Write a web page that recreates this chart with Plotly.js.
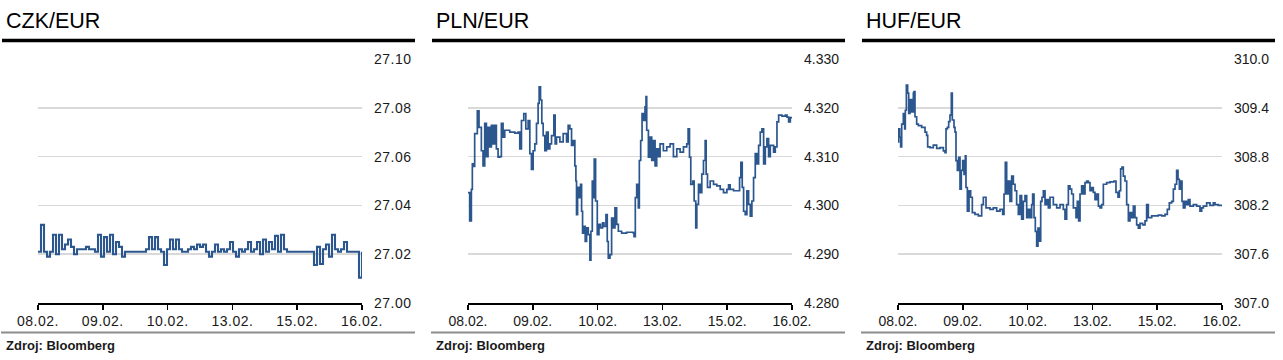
<!DOCTYPE html>
<html>
<head>
<meta charset="utf-8">
<script src="https://cdn.plot.ly/plotly-3.0.1.min.js"></script>
<style>
html,body{margin:0;padding:0;background:#fff;}
#chart{width:1283px;height:360px;}
.xtick text, .ytick text {letter-spacing:0.5px;}
</style>
</head>
<body>
<div id="chart"></div>
<script>
// ---------- data ----------
var panelTitles = ["CZK/EUR", "PLN/EUR", "HUF/EUR"];
var sourceText = "Zdroj: Bloomberg";
var dateLabels = ["08.02.", "09.02.", "10.02.", "13.02.", "15.02.", "16.02."];
var datePos = [0, 1, 2, 3, 4, 5];

var czkTicks = [27.00, 27.02, 27.04, 27.06, 27.08, 27.10];
var czkTickText = ["27.00", "27.02", "27.04", "27.06", "27.08", "27.10"];
var plnTicks = [4.280, 4.290, 4.300, 4.310, 4.320, 4.330];
var plnTickText = ["4.280", "4.290", "4.300", "4.310", "4.320", "4.330"];
var hufTicks = [307.0, 307.6, 308.2, 308.8, 309.4, 310.0];
var hufTickText = ["307.0", "307.6", "308.2", "308.8", "309.4", "310.0"];

// CZK/EUR, evenly spaced observations over the period
var czkValues = [
27.021,27.032,27.021,27.019,27.021,27.028,27.020,27.028,27.022,27.024,
27.026,27.023,27.020,27.022,27.022,27.022,27.023,27.022,27.022,27.021,
27.028,27.019,27.027,27.021,27.028,27.020,27.025,27.023,27.019,27.021,
27.021,27.021,27.021,27.021,27.021,27.021,27.022,27.027,27.022,27.027,
27.022,27.021,27.0156,27.022,27.026,27.022,27.026,27.022,27.021,27.021,
27.022,27.023,27.022,27.024,27.023,27.024,27.021,27.019,27.021,27.024,
27.021,27.022,27.021,27.022,27.025,27.021,27.019,27.022,27.021,27.022,
27.025,27.021,27.022,27.025,27.020,27.026,27.021,27.025,27.022,27.0275,
27.021,27.028,27.022,27.021,27.021,27.021,27.021,27.021,27.021,27.021,
27.021,27.021,27.0156,27.023,27.016,27.022,27.024,27.019,27.028,27.022,
27.021,27.022,27.025,27.021,27.021,27.021,27.021,27.0104,27.021
];

// PLN/EUR: time (in label-interval units) and rate
var plnTime = [
0,0.026,0.052,0.067,0.088,0.103,0.144,0.170,0.206,0.232,
0.258,0.284,0.309,0.335,0.361,0.387,0.412,0.438,0.464,0.490,
0.515,0.541,0.567,0.644,0.722,0.773,0.799,0.825,0.861,0.892,
0.928,0.954,0.979,1.005,1.031,1.057,1.082,1.098,1.119,1.139,
1.160,1.186,1.211,1.237,1.263,1.289,1.325,1.345,1.366,1.418,
1.469,1.521,1.546,1.572,1.598,1.624,1.649,1.665,1.675,1.691,
1.711,1.737,1.753,1.768,1.789,1.809,1.830,1.856,1.881,1.897,
1.918,1.933,1.948,1.969,1.995,2.021,2.046,2.077,2.098,2.129,
2.149,2.165,2.191,2.216,2.242,2.268,2.294,2.320,2.371,2.448,
2.552,2.562,2.582,2.603,2.629,2.644,2.665,2.686,2.706,2.732,
2.747,2.758,2.784,2.809,2.835,2.861,2.887,2.912,2.938,2.964,
3.015,3.067,3.119,3.170,3.222,3.273,3.325,3.376,3.397,3.418,
3.438,3.469,3.490,3.515,3.531,3.557,3.582,3.608,3.634,3.660,
3.675,3.696,3.737,3.789,3.840,3.892,3.943,3.995,4.021,4.046,
4.098,4.149,4.191,4.211,4.232,4.253,4.278,4.304,4.330,4.356,
4.381,4.407,4.433,4.459,4.485,4.510,4.536,4.562,4.588,4.613,
4.639,4.665,4.716,4.742,4.768,4.794,4.845,4.897,4.923,4.948,
4.974,5.000
];
var plnValues = [
4.3026,4.2968,4.3033,4.3085,4.3080,4.3147,4.3194,4.3160,4.3112,4.3081,
4.3168,4.3100,4.3160,4.3120,4.3164,4.3126,4.3164,4.3116,4.3099,4.3100,
4.3168,4.3140,4.3154,4.3150,4.3148,4.3150,4.3116,4.3174,4.3188,4.3157,
4.3174,4.3106,4.3074,4.3112,4.3126,4.3168,4.3209,4.3243,4.3216,4.3168,
4.3143,4.3112,4.3150,4.3116,4.3126,4.3143,4.3185,4.3126,4.3140,4.3130,
4.3147,4.3130,4.3164,4.3157,4.3123,4.3133,4.3081,4.3050,4.2981,4.3037,
4.3016,4.3043,4.2988,4.2943,4.2957,4.2926,4.2954,4.2940,4.2888,4.2947,
4.3050,4.3016,4.3095,4.3009,4.2940,4.2961,4.2954,4.2964,4.2957,4.2981,
4.2926,4.2892,4.2899,4.2974,4.2954,4.2995,4.2961,4.2947,4.2943,4.2945,
4.2943,4.2936,4.3016,4.3043,4.2995,4.3092,4.3133,4.3188,4.3174,4.3202,
4.3223,4.3154,4.3099,4.3140,4.3092,4.3133,4.3081,4.3116,4.3100,4.3126,
4.3112,4.3120,4.3126,4.3100,4.3116,4.3109,4.3120,4.3126,4.3157,4.3099,
4.3043,4.3050,4.3009,4.2954,4.3002,4.3043,4.3026,4.3064,4.3092,4.3133,
4.3064,4.3037,4.3050,4.3043,4.3040,4.3033,4.3026,4.3033,4.3042,4.3033,
4.3030,4.3030,4.3057,4.3088,4.3037,4.2988,4.2981,4.3030,4.3002,4.2978,
4.3009,4.3057,4.3106,4.3085,4.3123,4.3150,4.3157,4.3085,4.3120,4.3137,
4.3100,4.3123,4.3109,4.3120,4.3171,4.3185,4.3183,4.3185,4.3181,4.3171,
4.3180,4.3180
];

// HUF/EUR: time (in label-interval units) and rate
var hufTime = [
0,0.010,0.026,0.041,0.057,0.082,0.103,0.113,0.129,0.149,
0.165,0.185,0.211,0.237,0.247,0.262,0.288,0.314,0.365,0.417,
0.442,0.458,0.494,0.545,0.597,0.648,0.700,0.725,0.741,0.761,
0.782,0.802,0.823,0.838,0.864,0.880,0.895,0.916,0.936,0.957,
0.977,0.998,1.019,1.039,1.049,1.070,1.096,1.121,1.147,1.188,
1.240,1.291,1.317,1.358,1.420,1.471,1.523,1.574,1.615,1.636,
1.656,1.677,1.703,1.728,1.754,1.780,1.806,1.831,1.857,1.883,
1.908,1.934,1.960,1.986,2.011,2.037,2.063,2.078,2.099,2.119,
2.140,2.160,2.181,2.202,2.222,2.243,2.269,2.294,2.320,2.346,
2.397,2.449,2.500,2.551,2.577,2.603,2.629,2.654,2.680,2.706,
2.747,2.767,2.788,2.809,2.834,2.860,2.886,2.912,2.937,2.963,
2.989,3.014,3.040,3.066,3.092,3.117,3.143,3.169,3.220,3.272,
3.333,3.364,3.395,3.416,3.436,3.457,3.477,3.503,3.529,3.555,
3.580,3.606,3.632,3.657,3.683,3.709,3.735,3.776,3.812,3.837,
3.863,3.915,3.966,4.017,4.069,4.120,4.156,4.187,4.223,4.249,
4.275,4.300,4.321,4.342,4.362,4.383,4.403,4.429,4.455,4.480,
4.506,4.558,4.609,4.660,4.686,4.712,4.763,4.815,4.866,4.892,
4.943,5.000
];
var hufValues = [
308.98,309.14,309.04,308.92,309.20,309.33,309.14,309.37,309.68,309.58,
309.33,309.50,309.35,309.58,309.60,309.29,309.20,309.18,309.16,309.10,
309.06,308.92,308.91,308.94,308.90,308.91,308.87,308.85,309.14,309.16,
309.23,309.31,309.58,309.25,309.16,309.10,308.75,308.63,308.79,308.40,
308.63,308.75,308.58,308.81,308.42,308.13,308.38,308.30,308.11,308.09,
308.07,308.21,308.30,308.17,308.15,308.17,308.13,308.15,308.09,308.34,
308.73,308.34,308.50,308.25,308.56,308.46,308.38,308.21,308.09,308.32,
308.03,308.25,308.32,308.05,308.15,308.05,308.21,308.34,308.05,307.88,
307.70,307.92,307.76,308.25,308.30,308.38,308.21,308.27,308.17,308.30,
308.21,308.17,308.21,308.15,308.03,308.21,308.44,308.40,308.34,308.17,
308.05,308.25,308.01,308.34,308.44,308.34,308.48,308.50,308.48,308.38,
308.42,308.36,308.27,308.34,308.19,308.17,308.21,308.46,308.48,308.49,
308.50,308.36,308.30,308.38,308.65,308.67,308.56,308.50,308.21,308.01,
308.11,308.05,308.19,308.05,307.96,307.92,307.98,307.96,308.01,308.21,
308.05,308.07,308.07,308.08,308.07,308.09,308.15,308.23,308.25,308.40,
308.46,308.63,308.52,308.40,308.50,308.25,308.17,308.25,308.21,308.27,
308.19,308.21,308.19,308.13,308.17,308.19,308.23,308.20,308.23,308.21,
308.20,308.20
];

// ---------- build ----------
var W = 1283, H = 360;
function px(x){ return x / W; }
function py(y){ return 1 - y / H; }

var czkTime = czkValues.map(function(v, i){ return i * 5 / (czkValues.length - 1); });

var lineColor = "#2b568e";
var series = [
  {t: czkTime, v: czkValues, ticks: czkTicks, text: czkTickText, range: [27.00, 27.10], width: 2.1},
  {t: plnTime, v: plnValues, ticks: plnTicks, text: plnTickText, range: [4.280, 4.330], width: 1.7},
  {t: hufTime, v: hufValues, ticks: hufTicks, text: hufTickText, range: [307.0, 310.0], width: 1.7}
];

var panelLeft = [0, 430, 860];   // panel origins
var traces = [];
var layout = {
  width: W, height: H,
  margin: {l: 0, r: 0, t: 0, b: 0},
  paper_bgcolor: "#fff", plot_bgcolor: "rgba(0,0,0,0)",
  showlegend: false,
  font: {family: "Liberation Sans, Arial, sans-serif", color: "#1a1a1a"},
  shapes: [], annotations: []
};

series.forEach(function(s, k){
  var sfx = k === 0 ? "" : String(k + 1);
  var x0 = panelLeft[k];
  traces.push({
    type: "scatter", mode: "lines",
    x: s.t, y: s.v,
    xaxis: "x" + sfx, yaxis: "y" + sfx,
    line: {color: lineColor, width: s.width, shape: "hv"},
    hoverinfo: "skip"
  });
  layout["xaxis" + sfx] = {
    domain: [px(x0 + 38), px(x0 + 362)],
    anchor: "y" + sfx,
    range: [0, 5],
    tickmode: "array", tickvals: datePos, ticktext: dateLabels,
    showline: true, linecolor: "#000", linewidth: 1.5,
    ticks: "outside", ticklen: 5, tickwidth: 1.5, tickcolor: "#000",
    showgrid: false, zeroline: false, fixedrange: true,
    tickfont: {size: 14, color: "#1a1a1a"}
  };
  layout["yaxis" + sfx] = {
    domain: [py(303), py(59)],
    anchor: "x" + sfx,
    side: "right",
    range: s.range,
    tickmode: "array", tickvals: s.ticks, ticktext: s.text,
    showgrid: true, gridcolor: "#d9d9d9", gridwidth: 1.5,
    showline: false, zeroline: false, ticks: "", fixedrange: true,
    ticklabelstandoff: 11,
    tickfont: {size: 14, color: "#1a1a1a"}
  };
  // title
  layout.annotations.push({
    xref: "paper", yref: "paper", x: px(x0 + 4), y: py(21),
    xanchor: "left", yanchor: "middle", showarrow: false,
    text: panelTitles[k],
    font: {size: 21.5, color: "#000", family: "Liberation Sans, Arial, sans-serif"}
  });
  // source
  layout.annotations.push({
    xref: "paper", yref: "paper", x: px(x0 + 4), y: py(345),
    xanchor: "left", yanchor: "middle", showarrow: false,
    text: "<b>" + sourceText + "</b>",
    font: {size: 13, color: "#1a1a1a", family: "Liberation Sans, Arial, sans-serif"}
  });
  // thick black rule under title
  layout.shapes.push({
    type: "line", xref: "paper", yref: "paper",
    x0: px(x0 + 2), x1: px(x0 + 415), y0: py(40.5), y1: py(40.5),
    line: {color: "#000", width: 3.5}
  });
  // gray rule above source
  layout.shapes.push({
    type: "line", xref: "paper", yref: "paper",
    x0: px(x0 + 1), x1: px(x0 + 415), y0: py(332.5), y1: py(332.5),
    line: {color: "#8c8c8c", width: 2}
  });
});

Plotly.newPlot("chart", traces, layout, {displayModeBar: false, staticPlot: true});
</script>
</body>
</html>
